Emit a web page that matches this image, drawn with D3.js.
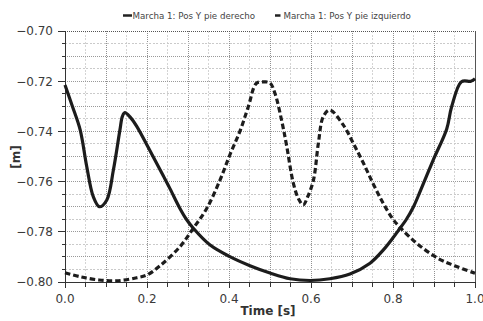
<!DOCTYPE html>
<html><head><meta charset="utf-8">
<script src="https://cdn.jsdelivr.net/npm/d3@7"></script>
<style>
html,body{margin:0;padding:0;background:#fff;}
svg{display:block;}
text{font-family:"DejaVu Sans",Verdana,sans-serif;}
</style></head>
<body>
<svg id="chart" width="483" height="321"></svg>
<script>
// Series names
const seriesNames = ["Marcha 1: Pos Y pie derecho", "Marcha 1: Pos Y pie izquierdo"];

// Right foot (solid)
const rightTime = [0.000,0.018,0.037,0.053,0.069,0.084,0.102,0.118,0.134,0.140,0.146,0.160,0.175,0.207,0.240,0.256,0.280,0.296,0.313,0.354,0.402,0.451,0.500,0.549,0.598,0.646,0.695,0.744,0.776,0.800,0.817,0.832,0.850,0.866,0.898,0.931,0.943,0.967,0.990,1.000];
const rightY    = [-0.7215,-0.7300,-0.7394,-0.7540,-0.7660,-0.7700,-0.7673,-0.7554,-0.7394,-0.7340,-0.7325,-0.7345,-0.7380,-0.7476,-0.7578,-0.7628,-0.7706,-0.7750,-0.7786,-0.7853,-0.7899,-0.7935,-0.7964,-0.7987,-0.7994,-0.7987,-0.7968,-0.7925,-0.7873,-0.7824,-0.7786,-0.7752,-0.7700,-0.7640,-0.7514,-0.7390,-0.7302,-0.7202,-0.7200,-0.7190];

// Left foot (dashed)
const leftTime = [0.000,0.037,0.083,0.130,0.175,0.200,0.232,0.280,0.313,0.346,0.378,0.402,0.427,0.447,0.467,0.485,0.500,0.512,0.529,0.541,0.557,0.570,0.581,0.592,0.606,0.618,0.630,0.646,0.679,0.703,0.728,0.752,0.776,0.800,0.817,0.858,0.910,0.950,1.000];
const leftY    = [-0.7963,-0.7979,-0.7992,-0.7995,-0.7983,-0.7972,-0.7935,-0.7860,-0.7786,-0.7706,-0.7594,-0.7494,-0.7398,-0.7302,-0.7208,-0.7203,-0.7207,-0.7248,-0.7361,-0.7461,-0.7607,-0.7670,-0.7693,-0.7660,-0.7594,-0.7447,-0.7341,-0.7315,-0.7375,-0.7447,-0.7527,-0.7610,-0.7686,-0.7750,-0.7782,-0.7846,-0.7906,-0.7935,-0.7965];

// Axis settings
const xDomain = [0, 1];
const yDomain = [-0.80, -0.70];
const xLabel = "Time [s]";
const yLabel = "[m]";

const svg = d3.select("#chart");
const L = 65, R = 475, T = 31, B = 282;
const x = d3.scaleLinear().domain(xDomain).range([L, R]);
const y = d3.scaleLinear().domain(yDomain).range([B, T]);

// grid
const g = svg.append("g");
const xMinor = x.ticks(20), xMajor = x.ticks(10);
const yMinor = y.ticks(20), yMajor = y.ticks(10);
const isIn = (arr, v) => arr.some(a => Math.abs(a - v) < 1e-9);

xMinor.forEach(v => {
  const maj = isIn(xMajor, v);
  g.append("line").attr("x1", x(v)).attr("x2", x(v)).attr("y1", T).attr("y2", B)
    .attr("stroke", maj ? "#909090" : "#d4d4d4").attr("stroke-width", 1)
    .attr("stroke-dasharray", maj ? "1,1" : "2,1.5").attr("shape-rendering", "crispEdges");
});
yMinor.forEach(v => {
  const maj = isIn(yMajor, v);
  g.append("line").attr("y1", y(v)).attr("y2", y(v)).attr("x1", L).attr("x2", R)
    .attr("stroke", maj ? "#999" : "#cacaca").attr("stroke-width", 1)
    .attr("stroke-dasharray", maj ? "1,1" : "2,1.5").attr("shape-rendering", "crispEdges");
});
// top and right border
g.append("line").attr("x1", L).attr("x2", R).attr("y1", T).attr("y2", T)
  .attr("stroke", "#555").attr("stroke-dasharray", "1,1").attr("shape-rendering", "crispEdges");
g.append("line").attr("x1", R).attr("x2", R).attr("y1", T).attr("y2", B)
  .attr("stroke", "#555").attr("shape-rendering", "crispEdges");

// axes
const yTickVals = y.ticks(5);
const xTickVals = x.ticks(5);
const ag = svg.append("g").attr("shape-rendering", "crispEdges");
ag.append("line").attr("x1", L).attr("x2", L).attr("y1", T).attr("y2", B + 0.5).attr("stroke", "#333");
ag.append("line").attr("x1", L).attr("x2", R).attr("y1", B).attr("y2", B).attr("stroke", "#333");
yMinor.forEach(v => {
  const maj = isIn(yTickVals, v);
  ag.append("line").attr("x1", L - (maj ? 7 : 3.5)).attr("x2", L).attr("y1", y(v)).attr("y2", y(v)).attr("stroke", "#333");
});
xMinor.forEach(v => {
  const maj = isIn(xTickVals, v);
  ag.append("line").attr("y1", B).attr("y2", B + (maj ? 6 : 4.5)).attr("x1", x(v)).attr("x2", x(v)).attr("stroke", "#333");
});
const fmt = d3.format(".2f");
yTickVals.forEach(v => {
  svg.append("text").attr("x", 53).attr("y", y(v) + 4.3).attr("text-anchor", "end")
    .attr("font-size", 12).attr("fill", "#3a3a3a").text(fmt(v));
});
const fmtx = d3.format(".1f");
xTickVals.forEach(v => {
  svg.append("text").attr("x", x(v)).attr("y", 303).attr("text-anchor", "middle")
    .attr("font-size", 12).attr("fill", "#3a3a3a").text(fmtx(v));
});
svg.append("text").attr("x", 268).attr("y", 315).attr("text-anchor", "middle")
  .attr("font-size", 12).attr("font-weight", "bold").attr("fill", "#333").text(xLabel);
svg.append("text").attr("transform", "translate(19.5,157) rotate(-90)").attr("text-anchor", "middle")
  .attr("font-size", 12).attr("font-weight", "bold").attr("fill", "#333").text(yLabel);

// lines
const line = d3.line().x(d => x(d[0])).y(d => y(d[1])).curve(d3.curveCatmullRom.alpha(0.5));
const rightData = rightTime.map((t, i) => [t, rightY[i]]);
const leftData = leftTime.map((t, i) => [t, leftY[i]]);
svg.append("path").datum(rightData).attr("d", line).attr("fill", "none")
  .attr("stroke", "#1c1c1c").attr("stroke-width", 3.2).attr("stroke-linejoin", "round");
svg.append("path").datum(leftData).attr("d", line).attr("fill", "none")
  .attr("stroke", "#1c1c1c").attr("stroke-width", 3.2).attr("stroke-dasharray", "5.5,3");

// legend
const lg = svg.append("g");
lg.append("line").attr("x1", 123).attr("x2", 132).attr("y1", 15.5).attr("y2", 15.5).attr("stroke", "#222").attr("stroke-width", 2.5);
lg.append("text").attr("x", 132.5).attr("y", 19).attr("font-size", 8.7).attr("fill", "#444").text(seriesNames[0]);
lg.append("line").attr("x1", 275).attr("x2", 280.5).attr("y1", 15.5).attr("y2", 15.5).attr("stroke", "#222").attr("stroke-width", 2.5);
lg.append("text").attr("x", 283.5).attr("y", 19).attr("font-size", 8.7).attr("fill", "#444").text(seriesNames[1]);
</script>
</body></html>
